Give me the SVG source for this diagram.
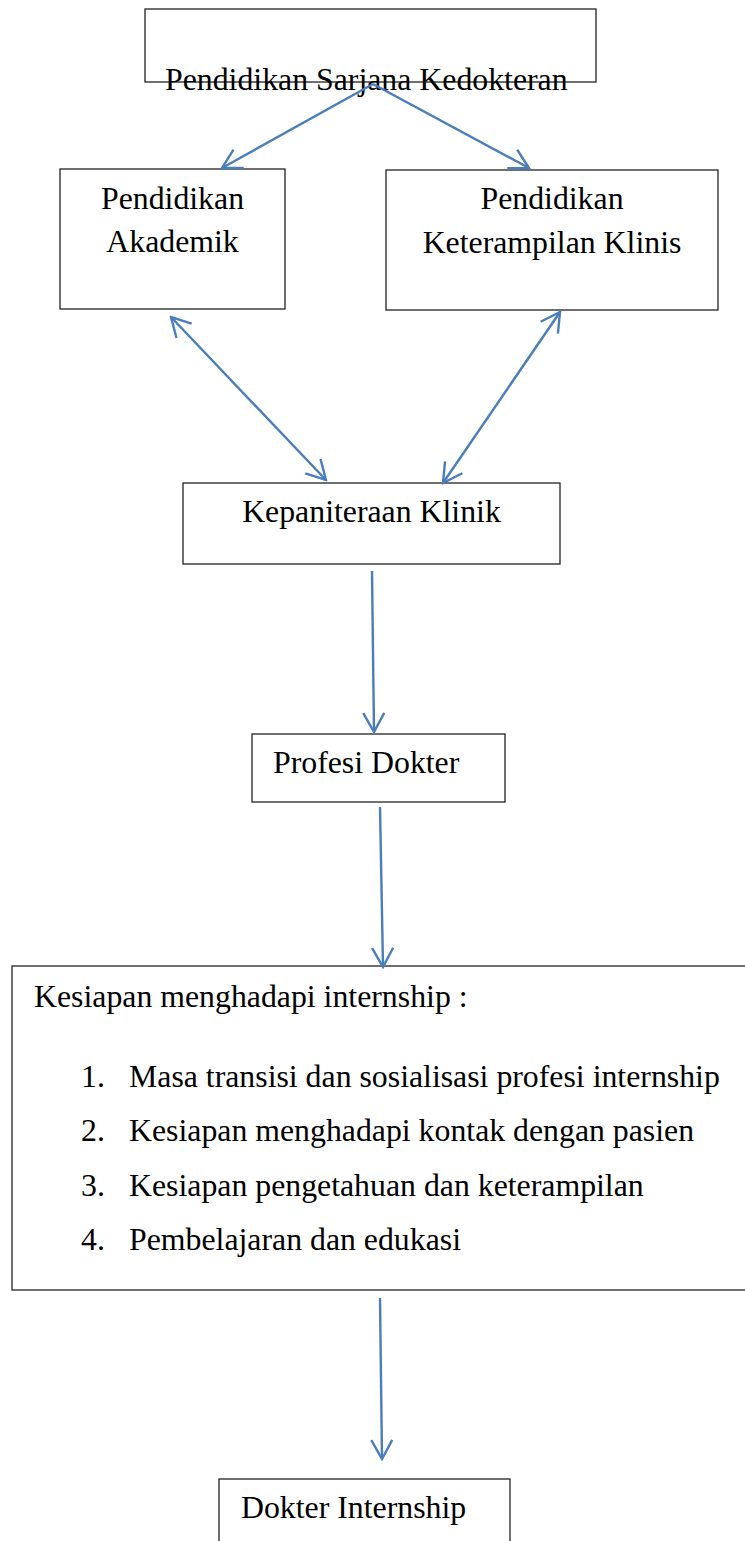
<svg xmlns="http://www.w3.org/2000/svg" width="745" height="1541" viewBox="0 0 745 1541">
<style>
.box{fill:#fff;stroke:#222;stroke-width:1.3}
.t{font-family:"Liberation Serif","Times New Roman",serif;font-size:31.8px;fill:#000}
.c{text-anchor:middle}
.conn{stroke:#4a7ebb;stroke-width:2.4;fill:none}
</style>
<defs>
<marker id="ah" viewBox="0 0 22 24" refX="20" refY="12" markerWidth="22" markerHeight="24" markerUnits="userSpaceOnUse" orient="auto-start-reverse">
<path d="M1,1.5 L20,12 L1,22.5" fill="none" stroke="#4a7ebb" stroke-width="2.4"/>
</marker>
</defs>
<g id="n-sarjana">
<rect class="box" x="145" y="9" width="451" height="73"/>
<text class="t" x="165" y="90">Pendidikan Sarjana Kedokteran</text>
</g>
<g id="n-akademik">
<rect class="box" x="60" y="169" width="225" height="140"/>
<text class="t c" x="172.5" y="209">Pendidikan</text>
<text class="t c" x="172.5" y="252">Akademik</text>
</g>
<g id="n-klinis">
<rect class="box" x="386" y="170" width="332" height="140"/>
<text class="t c" x="552" y="209">Pendidikan</text>
<text class="t c" x="552" y="253">Keterampilan Klinis</text>
</g>
<g id="n-kepaniteraan">
<rect class="box" x="183" y="483" width="377" height="81"/>
<text class="t c" x="371.5" y="522">Kepaniteraan Klinik</text>
</g>
<g id="n-profesi">
<rect class="box" x="252" y="734" width="253" height="68"/>
<text class="t" x="273" y="773">Profesi Dokter</text>
</g>
<g id="n-kesiapan">
<rect class="box" x="12" y="966" width="740" height="324"/>
<text class="t" x="34" y="1007">Kesiapan menghadapi internship :</text>
<text class="t" x="81" y="1087">1.</text>
<text class="t" x="129" y="1087">Masa transisi dan sosialisasi profesi internship</text>
<text class="t" x="81" y="1141">2.</text>
<text class="t" x="129" y="1141">Kesiapan menghadapi kontak dengan pasien</text>
<text class="t" x="81" y="1196">3.</text>
<text class="t" x="129" y="1196">Kesiapan pengetahuan dan keterampilan</text>
<text class="t" x="81" y="1250">4.</text>
<text class="t" x="129" y="1250">Pembelajaran dan edukasi</text>
</g>
<g id="n-internship">
<rect class="box" x="219" y="1479" width="291" height="80"/>
<text class="t" x="241" y="1518">Dokter Internship</text>
</g>
<g id="connectors">
<line class="conn" x1="373" y1="84" x2="222" y2="168" marker-end="url(#ah)"/>
<line class="conn" x1="373" y1="84" x2="529" y2="168" marker-end="url(#ah)"/>
<line class="conn" x1="171" y1="317" x2="326" y2="480" marker-start="url(#ah)" marker-end="url(#ah)"/>
<line class="conn" x1="560" y1="312" x2="443" y2="483" marker-start="url(#ah)" marker-end="url(#ah)"/>
<line class="conn" x1="372" y1="571" x2="374" y2="732" marker-end="url(#ah)"/>
<line class="conn" x1="380" y1="807" x2="383" y2="967" marker-end="url(#ah)"/>
<line class="conn" x1="380" y1="1298" x2="382" y2="1459" marker-end="url(#ah)"/>
</g>
</svg>
